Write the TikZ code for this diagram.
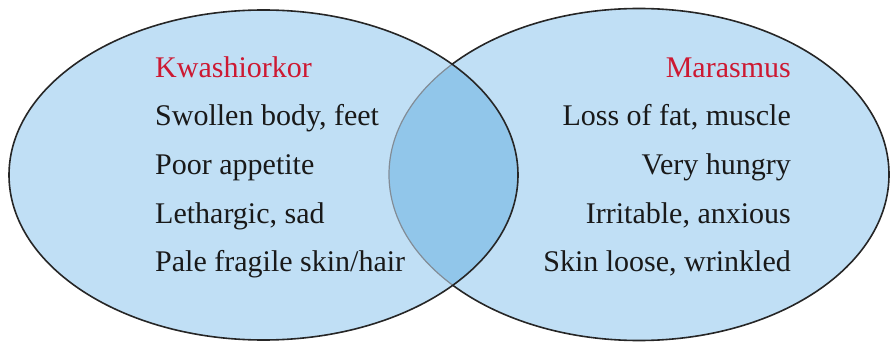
\documentclass[tikz,border=0pt]{standalone}
\usepackage{fontspec}
\setmainfont{Liberation Serif}
\newfontfamily\vennfont{Liberation Serif}
\definecolor{setfill}{RGB}{192,223,245}
\definecolor{lensfill}{RGB}{145,198,234}
\definecolor{titlered}{RGB}{205,25,50}
\definecolor{edgegray}{RGB}{130,140,150}
\tikzset{
  settext/.style={inner sep=0pt, font=\vennfont\fontsize{30}{36}\selectfont, text=black!90},
  settitle/.style={settext, text=titlered},
  setedge/.style={line width=1.6pt, draw=black!85},
}
\begin{document}
\begin{tikzpicture}[x=1pt,y=1pt]
\useasboundingbox (0,0) rectangle (891,343);
\def\leftset{(263.5,168) ellipse [x radius=254.5, y radius=165]}
\def\rightset{(639,168.5) ellipse [x radius=250, y radius=166]}
% fills
\fill[setfill] \leftset;
\fill[setfill] \rightset;
\begin{scope}
  \clip \leftset;
  \fill[lensfill] \rightset;
  \draw[line width=1.2pt, draw=edgegray] \rightset;
\end{scope}
\begin{scope}[even odd rule]
  \clip (-10,-10) rectangle (901,353) \leftset;
  \draw[setedge] \rightset;
\end{scope}
\draw[setedge] \leftset;
% left texts
\node[settitle, anchor=base west] (kw) at (155,265.5) {Kwashiorkor};
\node[settext, anchor=base west] (k1) at (155,217) {Swollen body, feet};
\node[settext, anchor=base west] (k2) at (155,168.5) {Poor appetite};
\node[settext, anchor=base west] (k3) at (155,120) {Lethargic, sad};
\node[settext, anchor=base west] (k4) at (155,71.5) {Pale fragile skin/hair};
% right texts
\node[settitle, anchor=base east] (ma) at (791,265.5) {Marasmus};
\node[settext, anchor=base east] (m1) at (791,217) {Loss of fat, muscle};
\node[settext, anchor=base east] (m2) at (791,168.5) {Very hungry};
\node[settext, anchor=base east] (m3) at (791,120) {Irritable, anxious};
\node[settext, anchor=base east] (m4) at (791,71.5) {Skin loose, wrinkled};
\end{tikzpicture}
\end{document}
